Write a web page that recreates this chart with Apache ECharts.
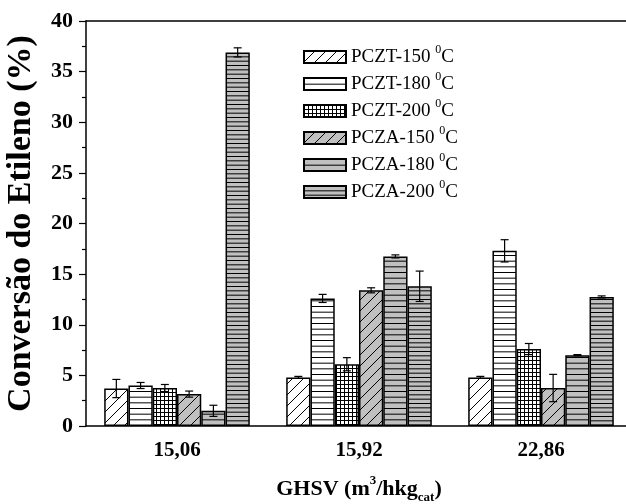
<!DOCTYPE html>
<html>
<head>
<meta charset="utf-8">
<script src="https://cdn.jsdelivr.net/npm/echarts@6/dist/echarts.min.js"></script>
<style>html,body{margin:0;padding:0;background:#fff}#c{width:626px;height:504px}</style>
</head>
<body>
<div id="c"></div>
<script>
// ---- data ----
const categories = ['15,06', '15,92', '22,86'];
const seriesNames = ['PCZT-150', 'PCZT-180', 'PCZT-200', 'PCZA-150', 'PCZA-180', 'PCZA-200'];
const pczt150 = [3.7, 4.8, 4.8];
const pczt180 = [4.0, 12.6, 17.3];
const pczt200 = [3.75, 6.1, 7.6];
const pcza150 = [3.15, 13.4, 3.75];
const pcza180 = [1.5, 16.75, 7.0];
const pcza200 = [36.9, 13.8, 12.75];
const pczt150Err = [0.9, 0.1, 0.1];
const pczt180Err = [0.3, 0.4, 1.1];
const pczt200Err = [0.35, 0.65, 0.55];
const pcza150Err = [0.3, 0.25, 1.35];
const pcza180Err = [0.55, 0.15, 0.05];
const pcza200Err = [0.45, 1.5, 0.1];
const yTicks = [0, 5, 10, 15, 20, 25, 30, 35, 40];

const values = [pczt150, pczt180, pczt200, pcza150, pcza180, pcza200];
const errors = [pczt150Err, pczt180Err, pczt200Err, pcza150Err, pcza180Err, pcza200Err];

// ---- fill patterns (style only) ----
function makePattern(bg, kind, param) {
  const c = document.createElement('canvas');
  const ctx = c.getContext('2d');
  if (kind === 'diag') {
    const p = param; c.width = p; c.height = p;
    ctx.fillStyle = bg; ctx.fillRect(0, 0, p, p);
    ctx.strokeStyle = '#000'; ctx.lineWidth = 1;
    ctx.beginPath();
    ctx.moveTo(-1, p + 1); ctx.lineTo(p + 1, -1);
    ctx.moveTo(-p - 1, p + 1); ctx.lineTo(1, -1);
    ctx.moveTo(p - 1, p + 1); ctx.lineTo(2 * p + 1, -1);
    ctx.stroke();
  } else if (kind === 'horiz') {
    const n = 3, h = Math.round(param * n); c.width = 4; c.height = h;
    ctx.fillStyle = bg; ctx.fillRect(0, 0, 4, h);
    ctx.fillStyle = '#000';
    for (let i = 0; i < n; i++) ctx.fillRect(0, i * h / n, 4, 1);
  } else if (kind === 'grid') {
    const p = param; c.width = p; c.height = p;
    ctx.fillStyle = bg; ctx.fillRect(0, 0, p, p);
    ctx.fillStyle = '#000';
    ctx.fillRect(0, 0, p, 1); ctx.fillRect(0, 0, 1, p);
  }
  return { image: c, repeat: 'repeat' };
}
const GRAY = '#c0c0c0';
const fills = [
  makePattern('#fff', 'diag', 11),
  makePattern('#fff', 'horiz', 5.67),
  makePattern('#fff', 'grid', 4),
  makePattern(GRAY, 'diag', 11),
  makePattern(GRAY, 'horiz', 5.67),
  makePattern(GRAY, 'horiz', 4.33)
];

const FONT = 'Liberation Serif';
const nS = seriesNames.length;
const CAT_GAP = 0.2;

const barSeries = seriesNames.map((name, i) => ({
  name: name,
  type: 'bar',
  data: values[i],
  barGap: '0%',
  barCategoryGap: (CAT_GAP * 100) + '%',
  itemStyle: { color: fills[i], borderColor: '#000', borderWidth: 1.5 },
  emphasis: { disabled: true },
  z: 2
}));

const errData = [];
values.forEach((arr, si) => arr.forEach((v, ci) => errData.push([ci, si, v, errors[si][ci]])));

const errSeries = {
  type: 'custom',
  data: errData,
  encode: { x: 0, y: 2 },
  z: 5,
  silent: true,
  renderItem: function (params, api) {
    const ci = api.value(0), si = api.value(1), v = api.value(2), e = api.value(3);
    const band = api.size([1, 0])[0];
    const bw = band * (1 - CAT_GAP) / nS;
    const x = api.coord([ci, v])[0] + (si - (nS - 1) / 2) * bw;
    const yt = api.coord([ci, v + e])[1];
    const yb = api.coord([ci, v - e])[1];
    const cap = 4;
    const st = { stroke: '#000', lineWidth: 1.2 };
    return {
      type: 'group',
      children: [
        { type: 'line', shape: { x1: x, y1: yt, x2: x, y2: yb }, style: st },
        { type: 'line', shape: { x1: x - cap, y1: yt, x2: x + cap, y2: yt }, style: st },
        { type: 'line', shape: { x1: x - cap, y1: yb, x2: x + cap, y2: yb }, style: st }
      ]
    };
  }
};

const chart = echarts.init(document.getElementById('c'), null, { renderer: 'canvas' });
chart.setOption({
  animation: false,
  backgroundColor: '#fff',
  grid: { left: 86, top: 21, bottom: 78, right: -6, containLabel: false, outerBoundsMode: 'none' },
  legend: {
    data: seriesNames,
    orient: 'vertical',
    left: 303,
    top: 44,
    padding: 0,
    itemWidth: 42,
    itemHeight: 12,
    itemGap: 4.5,
    icon: 'rect',
    selectedMode: false,
    formatter: n => '{n|' + n + ' }{s|0}{n|C}',
    textStyle: {
      fontFamily: FONT, color: '#000', fontSize: 19,
      rich: {
        n: { fontFamily: FONT, fontSize: 19, lineHeight: 26, color: '#000', verticalAlign: 'middle' },
        s: { fontFamily: FONT, fontSize: 12, lineHeight: 8, color: '#000', verticalAlign: 'top' }
      }
    }
  },
  xAxis: [
    {
      type: 'category', data: categories, position: 'bottom',
      axisLine: { lineStyle: { color: '#000', width: 1.5 } },
      axisTick: { alignWithLabel: true, length: 8, lineStyle: { color: '#000', width: 1.2 } },
      axisLabel: { color: '#000', fontFamily: FONT, fontWeight: 'bold', fontSize: 21, margin: 14 },
      name: 'GHSV (m{sup|3}/hkg{sub|cat})',
      nameLocation: 'middle',
      nameGap: 48,
      nameTextStyle: {
        fontFamily: FONT, fontWeight: 'bold', fontSize: 22, color: '#000',
        rich: {
          sup: { fontFamily: FONT, fontWeight: 'bold', fontSize: 13, verticalAlign: 'top', lineHeight: 10, color: '#000' },
          sub: { fontFamily: FONT, fontWeight: 'bold', fontSize: 13, verticalAlign: 'bottom', lineHeight: 30, color: '#000' }
        }
      },
      splitLine: { show: false }
    },
    {
      type: 'category', data: categories, position: 'top',
      axisLine: { lineStyle: { color: '#000', width: 1.5 } },
      axisTick: { show: false }, axisLabel: { show: false }, splitLine: { show: false }
    },
    {
      type: 'category', data: categories, position: 'bottom',
      axisLine: { show: false },
      axisTick: { length: 4, lineStyle: { color: '#000', width: 1.2 } },
      axisLabel: { show: false }, splitLine: { show: false }
    }
  ],
  yAxis: {
    type: 'value', min: yTicks[0], max: yTicks[yTicks.length - 1], interval: yTicks[1] - yTicks[0],
    axisLine: { show: true, lineStyle: { color: '#000', width: 1.5 } },
    axisTick: { show: true, length: 7, lineStyle: { color: '#000', width: 1.2 } },
    minorTick: { show: true, splitNumber: 2, length: 4, lineStyle: { color: '#000', width: 1.2 } },
    axisLabel: { color: '#000', fontFamily: FONT, fontWeight: 'bold', fontSize: 22, margin: 13 },
    splitLine: { show: false },
    name: 'Conversão do Etileno (%)',
    nameLocation: 'middle',
    nameGap: 48,
    nameTextStyle: { fontFamily: FONT, fontWeight: 'bold', fontSize: 34, color: '#000' }
  },
  series: barSeries.concat([errSeries])
});
</script>
</body>
</html>
